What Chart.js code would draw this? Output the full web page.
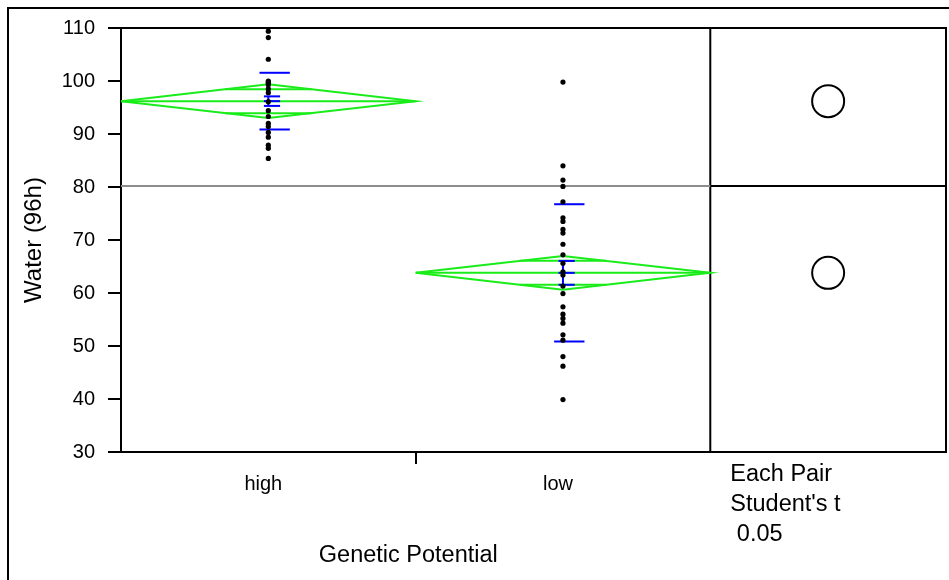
<!DOCTYPE html>
<html>
<head>
<meta charset="utf-8">
<script src="https://cdn.jsdelivr.net/npm/chart.js@4.4.0/dist/chart.umd.min.js"></script>
<style>
  html, body { margin: 0; padding: 0; background: #fff; }
</style>
</head>
<body>
<canvas id="chart" width="949" height="580"></canvas>
<script>
// values
const categories = ['high', 'low'];
const highWater = [109.4, 108.2, 104.1, 100.0, 99.8, 99.6, 99.3, 98.5, 97.8, 96.1, 94.4, 93.3, 92.0, 91.4, 90.3, 89.4, 87.9, 87.3, 85.4];
const lowWater = [99.8, 84.0, 81.3, 80.1, 77.2, 74.2, 73.5, 72.0, 71.3, 69.2, 67.2, 65.6, 64.0, 63.4, 61.3, 59.9, 57.4, 56.0, 55.2, 54.3, 52.1, 51.1, 48.0, 46.2, 39.9];
const groupMeans = [96.2, 63.8];
const meanCI = [3.2, 3.2];
const groupSD = [5.35, 12.95];
const groupSE = [0.9, 2.25];
const grandMean = 80.2;
const yTicks = [30, 40, 50, 60, 70, 80, 90, 100, 110];
const panelText = ['Each Pair', "Student's t", ' 0.05'];

const FONT = "'Liberation Sans', Arial, sans-serif";
const GREEN = '#19ec19';
const BLUE = '#0000ff';

function seg(x1, y1, x2, y2, color, width) {
  return {
    data: [{ x: x1, y: y1 }, { x: x2, y: y2 }],
    showLine: true,
    borderColor: color,
    borderWidth: width,
    pointRadius: 0,
    pointHoverRadius: 0
  };
}

const datasets = [];

// raw points (first = drawn on top)
[highWater, lowWater].forEach((vals, i) => {
  datasets.push({
    data: vals.map(v => ({ x: i + 0.5, y: v })),
    pointRadius: 2.6,
    pointBackgroundColor: '#000',
    pointBorderWidth: 0,
    showLine: false
  });
});

// std dev and std error marks
groupMeans.forEach((m, i) => {
  const c = i + 0.5;
  datasets.push(seg(c - 0.03, m + groupSD[i], c + 0.073, m + groupSD[i], BLUE, 2));
  datasets.push(seg(c - 0.03, m - groupSD[i], c + 0.073, m - groupSD[i], BLUE, 2));
  [m + groupSE[i], m, m - groupSE[i]].forEach(v => {
    datasets.push(seg(c - 0.015, v, c + 0.04, v, BLUE, 2));
  });
  datasets.push(seg(c, m - groupSE[i], c, m + groupSE[i], BLUE, 2));
});

// means diamonds with overlap marks
groupMeans.forEach((m, i) => {
  const c = i + 0.5;
  const ci = meanCI[i];
  datasets.push({
    data: [{ x: i, y: m }, { x: c, y: m + ci }, { x: i + 1, y: m }, { x: c, y: m - ci }, { x: i, y: m }],
    showLine: true, borderColor: GREEN, borderWidth: 2, pointRadius: 0, pointHoverRadius: 0
  });
  datasets.push(seg(i, m, i + 1, m, GREEN, 2));
  const o = ci / Math.SQRT2;
  const w = 0.5 * (1 - 1 / Math.SQRT2);
  datasets.push(seg(c - w, m + o, c + w, m + o, GREEN, 2));
  datasets.push(seg(c - w, m - o, c + w, m - o, GREEN, 2));
});

// grand mean line and comparison panel
datasets.push(seg(0, grandMean, 2, grandMean, '#8c8c8c', 2));
datasets.push(seg(2, grandMean, 2.8, grandMean, '#000', 2));
datasets.push(seg(2, 30, 2, 110, '#000', 2));
datasets.push({
  data: groupMeans.map(m => ({ x: 2.4, y: m })),
  pointRadius: 16,
  pointBorderWidth: 2,
  pointBorderColor: '#000',
  pointBackgroundColor: 'rgba(0,0,0,0)',
  showLine: false
});

const framePlugin = {
  id: 'frame',
  beforeDraw(chart) {
    const ctx = chart.ctx;
    ctx.save();
    ctx.fillStyle = '#fff';
    ctx.fillRect(0, 0, chart.width, chart.height);
    ctx.strokeStyle = '#000';
    ctx.lineWidth = 2;
    ctx.beginPath();
    ctx.moveTo(8, chart.height);
    ctx.lineTo(8, 8);
    ctx.lineTo(chart.width, 8);
    ctx.stroke();
    ctx.restore();
  },
  afterDraw(chart) {
    const ctx = chart.ctx;
    const a = chart.chartArea;
    const xs = chart.scales.x;
    ctx.save();
    ctx.strokeStyle = '#000';
    ctx.lineWidth = 2;
    ctx.beginPath();
    ctx.moveTo(a.left, a.top);
    ctx.lineTo(a.right, a.top);
    ctx.lineTo(a.right, a.bottom);
    ctx.stroke();

    ctx.fillStyle = '#000';
    ctx.font = '23.5px ' + FONT;
    ctx.textAlign = 'center';
    ctx.textBaseline = 'alphabetic';
    ctx.fillText('Genetic Potential', xs.getPixelForValue(0.975), 562);

    ctx.textAlign = 'left';
    const px = xs.getPixelForValue(2) + 20;
    panelText.forEach((t, i) => ctx.fillText(t, px, 481 + i * 30));
    ctx.restore();
  }
};

new Chart(document.getElementById('chart'), {
  type: 'scatter',
  data: { datasets },
  options: {
    responsive: false,
    animation: false,
    layout: { autoPadding: false, padding: { top: 28, right: 3, left: 0, bottom: 0 } },
    plugins: { legend: { display: false }, tooltip: { enabled: false } },
    scales: {
      x: {
        type: 'linear',
        min: 0,
        max: 2.8,
        afterBuildTicks: s => { s.ticks = [0.483, 1, 1.483].map(v => ({ value: v })); },
        afterFit: s => { s.height = 128; },
        ticks: {
          autoSkip: false,
          maxRotation: 0,
          padding: 8,
          color: '#000',
          font: { family: FONT, size: 20 },
          callback: (v, idx) => (idx === 0 ? categories[0] : idx === 2 ? categories[1] : '')
        },
        grid: {
          drawOnChartArea: false,
          tickLength: 12,
          lineWidth: 2,
          color: c => (c.tick && c.tick.value === 1 ? '#000' : 'rgba(0,0,0,0)')
        },
        border: { color: '#000', width: 2 }
      },
      y: {
        type: 'linear',
        min: 30,
        max: 110,
        afterBuildTicks: s => { s.ticks = yTicks.map(v => ({ value: v })); },
        afterFit: s => { s.width = 121; },
        ticks: {
          padding: 13,
          color: '#000',
          font: { family: FONT, size: 20 }
        },
        grid: { drawOnChartArea: false, tickLength: 13, lineWidth: 2, color: '#000' },
        border: { color: '#000', width: 2 },
        title: {
          display: true,
          text: 'Water (96h)',
          color: '#000',
          font: { family: FONT, size: 24 },
          padding: { top: 20, bottom: 0 }
        }
      }
    }
  },
  plugins: [framePlugin]
});
</script>
</body>
</html>
